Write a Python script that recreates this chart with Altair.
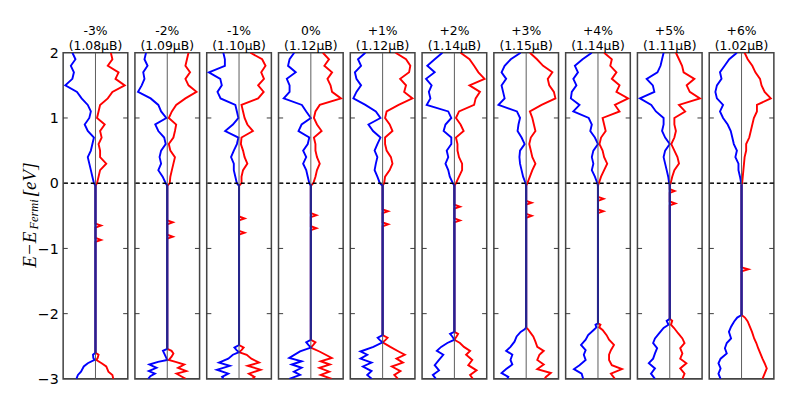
import altair as alt
import pandas as pd

strains = ["-3%", "-2%", "-1%", "0%", "+1%", "+2%", "+3%", "+4%", "+5%", "+6%"]
moments = ["1.08", "1.09", "1.10", "1.12", "1.12", "1.14", "1.15", "1.14", "1.11", "1.02"]

# energy grid of the conduction region (E - E_Fermi, eV)
energy_top = [2.0, 1.9, 1.8, 1.7, 1.6, 1.5, 1.4, 1.3, 1.2, 1.1, 1.0,
              0.9, 0.8, 0.7, 0.6, 0.5, 0.4, 0.3, 0.2, 0.1, 0.0]

# spin-down DOS (drawn to the left, negative), one list per strain
down_top = [
    [-0.75, -0.65, -0.8, -0.7, -0.75, -0.98, -0.6, -0.45, -0.25, -0.15, -0.2, -0.35, -0.25, -0.05, -0.1, -0.15, -0.25, -0.2, -0.15, -0.1, -0.05],
    [-0.69, -0.74, -0.64, -0.78, -0.74, -0.83, -0.95, -0.54, -0.29, -0.2, -0.03, -0.39, -0.29, -0.1, -0.05, -0.2, -0.25, -0.2, -0.29, -0.15, -0.05],
    [-0.51, -0.46, -0.46, -0.98, -0.61, -0.56, -0.7, -0.6, -0.12, -0.07, -0.02, -0.2, -0.45, -0.02, -0.07, -0.17, -0.26, -0.17, -0.17, -0.12, -0.07],
    [-0.54, -0.69, -0.74, -0.49, -0.78, -0.69, -0.69, -0.88, -0.29, -0.15, 0.0, -0.3, -0.4, -0.05, -0.1, -0.25, -0.15, -0.25, -0.15, -0.1, -0.05],
    [-0.56, -0.8, -0.7, -0.9, -0.85, -0.7, -0.85, -0.95, -0.56, -0.22, -0.07, -0.46, -0.31, -0.07, -0.17, -0.26, -0.17, -0.22, -0.26, -0.17, -0.09],
    [-0.39, -0.64, -0.88, -0.64, -0.92, -0.74, -0.83, -0.78, -0.9, -0.2, -0.1, -0.29, -0.35, -0.1, -0.1, -0.25, -0.2, -0.29, -0.2, -0.15, -0.05],
    [-0.18, -0.5, -0.7, -0.8, -0.65, -0.8, -0.75, -0.7, -0.9, -0.3, -0.2, -0.25, -0.28, -0.15, -0.05, -0.2, -0.22, -0.2, -0.15, -0.1, -0.02],
    [-0.2, -0.5, -0.75, -0.65, -0.8, -0.7, -0.85, -0.88, -0.6, -0.8, -0.3, -0.2, -0.25, -0.1, 0.0, -0.15, -0.2, -0.15, -0.2, -0.1, -0.02],
    [-0.2, -0.25, -0.3, -0.4, -0.75, -0.55, -0.5, -0.97, -0.6, -0.45, -0.2, -0.2, -0.25, -0.15, 0.0, -0.15, -0.2, -0.15, -0.1, -0.05, -0.02],
    [-0.15, -0.4, -0.55, -0.7, -0.65, -0.8, -0.85, -0.8, -0.6, -0.7, -0.6, -0.45, -0.35, -0.3, -0.25, -0.15, -0.2, -0.1, -0.1, -0.05, -0.01],
]

# spin-up DOS (drawn to the right, positive)
up_top = [
    [0.5, 0.55, 0.4, 0.75, 0.65, 0.95, 0.55, 0.4, 0.15, 0.1, 0.05, 0.3, 0.15, 0.2, 0.1, 0.15, 0.15, 0.35, 0.15, 0.1, 0.05],
    [0.69, 0.64, 0.59, 0.74, 0.59, 0.69, 0.95, 0.59, 0.29, 0.15, 0.05, 0.29, 0.25, 0.2, 0.05, 0.1, 0.25, 0.2, 0.15, 0.1, 0.08],
    [0.37, 0.75, 0.86, 0.72, 0.81, 0.62, 0.8, 0.62, 0.08, 0.13, 0.18, 0.27, 0.45, 0.08, 0.06, 0.13, 0.18, 0.27, 0.13, 0.08, 0.08],
    [0.39, 0.59, 0.44, 0.69, 0.54, 0.64, 0.69, 0.98, 0.29, 0.15, 0.1, 0.2, 0.35, 0.1, 0.15, 0.15, 0.2, 0.29, 0.2, 0.15, 0.08],
    [0.42, 0.76, 0.9, 0.86, 0.57, 0.76, 0.7, 0.97, 0.52, 0.13, 0.08, 0.23, 0.32, 0.08, 0.08, 0.13, 0.27, 0.32, 0.23, 0.08, 0.05],
    [0.2, 0.49, 0.64, 0.78, 0.98, 0.49, 0.83, 0.69, 0.64, 0.15, 0.05, 0.2, 0.3, 0.05, 0.1, 0.1, 0.15, 0.25, 0.25, 0.15, 0.05],
    [0.12, 0.35, 0.55, 0.85, 0.7, 0.75, 0.9, 0.95, 0.5, 0.12, 0.2, 0.25, 0.3, 0.15, 0.1, 0.15, 0.2, 0.3, 0.2, 0.12, 0.04],
    [0.2, 0.45, 0.4, 0.6, 0.45, 0.7, 0.6, 0.98, 0.55, 0.7, 0.15, 0.2, 0.25, 0.1, 0.05, 0.15, 0.2, 0.3, 0.2, 0.1, 0.03],
    [0.2, 0.3, 0.4, 0.45, 0.8, 0.55, 0.65, 0.98, 0.3, 0.5, 0.15, 0.15, 0.2, 0.15, 0.05, 0.15, 0.25, 0.3, 0.15, 0.08, 0.03],
    [0.1, 0.2, 0.35, 0.45, 0.6, 0.65, 0.75, 0.95, 0.5, 0.5, 0.4, 0.35, 0.3, 0.25, 0.15, 0.15, 0.1, 0.08, 0.06, 0.04, 0.02],
]

# isolated spin-up gap states (energy, height)
gap_states = [
    [(-0.65, 0.18), (-0.87, 0.18)],
    [(-0.60, 0.18), (-0.82, 0.18)],
    [(-0.54, 0.18), (-0.76, 0.18)],
    [(-0.49, 0.18), (-0.69, 0.18)],
    [(-0.43, 0.18), (-0.63, 0.18)],
    [(-0.36, 0.18), (-0.57, 0.18)],
    [(-0.30, 0.18), (-0.50, 0.18)],
    [(-0.24, 0.18), (-0.43, 0.18)],
    [(-0.12, 0.16), (-0.31, 0.18)],
    [(-1.32, 0.22)],
]

# valence band edge region: energies and DOS per strain
energy_bottom = [
    [-2.60, -2.63, -2.68, -2.71, -2.76, -2.81, -2.89, -2.94, -3.0],
    [-2.54, -2.57, -2.61, -2.66, -2.71, -2.74, -2.78, -2.83, -2.88, -2.92, -2.96, -3.0],
    [-2.48, -2.52, -2.56, -2.59, -2.63, -2.69, -2.75, -2.80, -2.86, -2.92, -2.97, -3.0],
    [-2.40, -2.44, -2.48, -2.52, -2.58, -2.68, -2.73, -2.78, -2.83, -2.89, -2.94, -3.0],
    [-2.33, -2.37, -2.41, -2.44, -2.51, -2.58, -2.63, -2.69, -2.75, -2.81, -2.88, -2.94, -3.0],
    [-2.28, -2.31, -2.35, -2.40, -2.45, -2.51, -2.57, -2.63, -2.71, -2.79, -2.87, -2.94, -3.0],
    [-2.21, -2.24, -2.28, -2.35, -2.43, -2.51, -2.57, -2.63, -2.71, -2.78, -2.85, -2.91, -2.97, -3.0],
    [-2.15, -2.17, -2.21, -2.25, -2.33, -2.40, -2.48, -2.56, -2.63, -2.71, -2.79, -2.85, -2.92, -3.0],
    [-2.08, -2.11, -2.17, -2.22, -2.30, -2.38, -2.45, -2.53, -2.61, -2.69, -2.76, -2.84, -2.92, -3.0],
    [-2.02, -2.06, -2.12, -2.20, -2.28, -2.38, -2.45, -2.53, -2.61, -2.69, -2.76, -2.84, -2.92, -3.0],
]
down_bottom = [
    [0, -0.08, -0.07, -0.03, -0.25, -0.38, -0.47, -0.57, -0.62],
    [0, -0.14, -0.1, -0.05, 0, -0.3, -0.58, -0.35, -0.6, -0.4, -0.55, -0.62],
    [0, -0.15, -0.08, 0, -0.2, -0.35, -0.65, -0.3, -0.72, -0.35, -0.55, -0.5],
    [0, -0.15, -0.08, 0, -0.35, -0.7, -0.3, -0.62, -0.3, -0.55, -0.35, -0.7],
    [0, -0.16, -0.08, 0, -0.3, -0.72, -0.5, -0.72, -0.36, -0.64, -0.36, -0.5, -0.35],
    [0, -0.14, -0.07, 0, -0.23, -0.43, -0.57, -0.36, -0.5, -0.64, -0.5, -0.7, -0.6],
    [0, -0.05, -0.18, -0.31, -0.38, -0.51, -0.65, -0.45, -0.51, -0.45, -0.65, -0.8, -0.58, -0.62],
    [0, -0.08, -0.05, -0.14, -0.32, -0.4, -0.55, -0.4, -0.46, -0.4, -0.6, -0.78, -0.53, -0.48],
    [0, -0.1, -0.04, -0.2, -0.34, -0.48, -0.54, -0.41, -0.48, -0.54, -0.68, -0.48, -0.61, -0.48],
    [0, -0.14, -0.24, -0.34, -0.41, -0.34, -0.48, -0.54, -0.48, -0.68, -0.75, -0.68, -0.75, -0.68],
]
up_bottom = [
    [0, 0.1, 0.07, 0.03, 0.2, 0.35, 0.42, 0.55, 0.58],
    [0, 0.14, 0.2, 0.14, 0.05, 0.27, 0.55, 0.35, 0.62, 0.3, 0.45, 0.6],
    [0, 0.15, 0.08, 0, 0.25, 0.4, 0.65, 0.28, 0.7, 0.32, 0.5, 0.42],
    [0, 0.15, 0.08, 0, 0.28, 0.68, 0.32, 0.62, 0.28, 0.6, 0.32, 0.68],
    [0, 0.16, 0.08, 0, 0.25, 0.52, 0.72, 0.45, 0.66, 0.3, 0.58, 0.38, 0.5],
    [0, 0.12, 0.07, 0, 0.18, 0.31, 0.51, 0.38, 0.58, 0.45, 0.72, 0.51, 0.6],
    [0, 0.06, 0.12, 0.23, 0.3, 0.36, 0.57, 0.43, 0.36, 0.57, 0.36, 0.8, 0.64, 0.6],
    [0, 0.08, 0.04, 0.15, 0.28, 0.36, 0.52, 0.42, 0.36, 0.36, 0.45, 0.78, 0.42, 0.55],
    [0, 0.08, 0.04, 0.14, 0.27, 0.41, 0.48, 0.34, 0.41, 0.34, 0.54, 0.34, 0.48, 0.41],
    [0, 0.11, 0.2, 0.27, 0.34, 0.41, 0.48, 0.54, 0.61, 0.68, 0.75, 0.82, 0.75, 0.68],
]

y_ticks = [2, 1, 0, -1, -2, -3]
inner_ticks = [1, 0, -1, -2]


def spin_frame(p, spin):
    top = up_top[p] if spin == "up" else down_top[p]
    bot = up_bottom[p] if spin == "up" else down_bottom[p]
    pts = list(zip(energy_top, top))
    pts.append((-0.04, 0.0))
    if spin == "up":
        for e, h in gap_states[p]:
            pts += [(e + 0.03, 0.0), (e, h), (e - 0.03, 0.0)]
    pts += list(zip(energy_bottom[p], bot))
    return pd.DataFrame([{"E": e, "v": v, "k": k} for k, (e, v) in enumerate(pts)])


XDOM = [-1.05, 1.05]
W, H = 68, 343
yscale = alt.Scale(domain=[-3, 2], nice=False, zero=False)
xscale = alt.Scale(domain=XDOM, nice=False, zero=False)

panels = []
for p in range(len(strains)):
    if p == 0:
        yaxis = alt.Axis(values=y_ticks, format="d", ticks=False, domain=False, grid=False,
                         labelFontSize=15, labelFont="DejaVu Sans", labelColor="black",
                         labelPadding=5, title=None)
    else:
        yaxis = None

    red = alt.Chart(spin_frame(p, "up")).mark_line(strokeWidth=2, clip=True, color="#ff0000").encode(
        x=alt.X("v:Q", scale=xscale, axis=None),
        y=alt.Y("E:Q", scale=yscale, axis=yaxis),
        order=alt.Order("k:Q"),
    )
    blue = alt.Chart(spin_frame(p, "down")).mark_line(strokeWidth=2, clip=True, color="#0000ff").encode(
        x=alt.X("v:Q", scale=xscale, axis=None),
        y=alt.Y("E:Q", scale=yscale, axis=yaxis),
        order=alt.Order("k:Q"),
    )
    # overlapping spin-up/spin-down zero line across the gap
    gap_line = alt.Chart(pd.DataFrame({"x": [0.0], "y1": [-0.02], "y2": [energy_bottom[p][0]]})).mark_rule(
        color="#25258a", strokeWidth=2.2
    ).encode(x=alt.X("x:Q", scale=xscale), y=alt.Y("y1:Q", scale=yscale), y2="y2:Q")
    center = alt.Chart(pd.DataFrame({"x": [0.0]})).mark_rule(color="#555", strokeWidth=1).encode(
        x=alt.X("x:Q", scale=xscale)
    )
    fermi = alt.Chart(pd.DataFrame({"y": [0.0]})).mark_rule(color="black", strokeWidth=1.6, strokeDash=[4, 3]).encode(
        y=alt.Y("y:Q", scale=yscale)
    )
    tdf = pd.DataFrame({"y": inner_ticks * 2,
                        "x1": [XDOM[0]] * len(inner_ticks) + [XDOM[1] - 0.15] * len(inner_ticks),
                        "x2": [XDOM[0] + 0.15] * len(inner_ticks) + [XDOM[1]] * len(inner_ticks)})
    ticks = alt.Chart(tdf).mark_rule(color="#333", strokeWidth=1).encode(
        y=alt.Y("y:Q", scale=yscale), x=alt.X("x1:Q", scale=xscale), x2="x2:Q"
    )
    head = alt.Chart(pd.DataFrame({"t": [strains[p]]})).mark_text(
        fontSize=13, font="DejaVu Sans", color="black", baseline="middle", align="center"
    ).encode(text="t:N", x=alt.value(W / 2), y=alt.value(-23))
    sub = alt.Chart(pd.DataFrame({"t": [f"({moments[p]}μB)"]})).mark_text(
        fontSize=13, font="DejaVu Sans", color="black", baseline="middle", align="center"
    ).encode(text="t:N", x=alt.value(W / 2), y=alt.value(-7))
    layers = [red, blue, center, gap_line, fermi, ticks, head, sub]
    if p == 0:
        lab = [("E−E", 20, -35, 226), ("Fermi", 13, -30, 186), ("[eV]", 20, -35, 152)]
        for txt, fs, xx, yy in lab:
            layers.append(
                alt.Chart(pd.DataFrame({"t": [txt]})).mark_text(
                    angle=270, align="left", baseline="middle", fontSize=fs,
                    font="Liberation Serif", fontStyle="italic", color="black"
                ).encode(text="t:N", x=alt.value(xx), y=alt.value(yy))
            )
    ch = alt.layer(*layers).properties(width=W, height=H)
    panels.append(ch)

chart = alt.hconcat(*panels, spacing=3.5).configure_view(
    stroke="#444", strokeWidth=1.6
).properties(background="white", padding={"left": 12, "top": 7, "right": 5, "bottom": 0})

chart.save("out.html", embed_options={"renderer": "svg", "actions": False})
